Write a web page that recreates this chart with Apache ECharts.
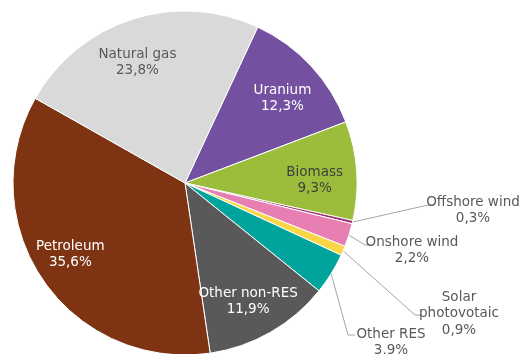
<!DOCTYPE html>
<html>
<head>
<meta charset="utf-8">
<script src="https://cdn.jsdelivr.net/npm/echarts@6/dist/echarts.min.js"></script>
<style>
  html, body { margin: 0; padding: 0; background: #ffffff; }
  #chart { width: 531px; height: 354px; }
</style>
</head>
<body>
<div id="chart"></div>
<script>
// Energy mix shares (%), listed clockwise starting with Uranium
const categories = ['Uranium', 'Biomass', 'Offshore wind', 'Onshore wind', 'Solar photovotaic',
                    'Other RES', 'Other non-RES', 'Petroleum', 'Natural gas'];
const labelNames = ['Uranium', 'Biomass', 'Offshore wind', 'Onshore wind', 'Solar\nphotovotaic',
                    'Other RES', 'Other non-RES', 'Petroleum', 'Natural gas'];
const shares = [12.3, 9.3, 0.3, 2.2, 0.9, 3.9, 11.9, 35.6, 23.8];
const colors = ['#7450a0', '#9cbd3c', '#9b2f6e', '#e77fb3', '#f8d646', '#00a49c', '#595959', '#7e3312', '#d9d9d9'];

// Which slices carry their label inside the slice, and its text colour
const insideLabelColor = ['#ffffff', '#3f3f3f', null, null, null, null, '#ffffff', '#ffffff', '#595959'];
// Small nudges of the in-slice labels away from the slice bisector
const insideNudge = { 0: [0, 6], 1: [-3, 7], 6: [-3, 3], 7: [-5, -4], 8: [-7, 6] };

// Callout placement for the small slices: label centre and leader line bend / end
const callouts = {
  2: { label: [473, 210.5], bend: [428, 205], end: [433, 205] },
  3: { label: [412, 250.5], bend: [365, 245], end: [371, 245] },
  4: { label: [459, 313.5], bend: [415, 315], end: [421, 315] },
  5: { label: [391, 342.5], bend: [348, 335], end: [355, 335] }
};

const CX = 185, CY = 183, R = 172;
const START = 65; // degrees, measured counter-clockwise from 3 o'clock

const fmt = (v) => v.toFixed(1).replace('.', ',') + '%';

// Edge point of a slice at its middle angle
const total = shares.reduce((a, b) => a + b, 0);
function edgePoint(idx) {
  let before = 0;
  for (let i = 0; i < idx; i++) before += shares[i];
  const mid = START - (before + shares[idx] / 2) / total * 360;
  const a = mid * Math.PI / 180;
  return [CX + R * Math.cos(a), CY - R * Math.sin(a)];
}

const font = { fontFamily: 'DejaVu Sans', fontSize: 13.5, lineHeight: 16.5 };

const mainData = categories.map((name, i) => ({
  name: name,
  value: shares[i],
  itemStyle: { color: colors[i] },
  label: callouts[i] ? {
    show: true, position: 'outside', color: '#595959', align: 'center',
    formatter: () => labelNames[i] + '\n' + fmt(shares[i]), ...font
  } : { show: false },
  labelLine: callouts[i] ? { show: true, lineStyle: { color: '#a6a6a6', width: 1 } } : { show: false }
}));

const labelData = categories.map((name, i) => ({
  name: name,
  value: shares[i],
  label: insideLabelColor[i] ? {
    show: true, position: 'inside', color: insideLabelColor[i], align: 'center',
    formatter: () => labelNames[i] + '\n' + fmt(shares[i]), ...font
  } : { show: false }
}));

const chart = echarts.init(document.getElementById('chart'), null, { renderer: 'canvas' });
chart.setOption({
  animation: false,
  backgroundColor: '#ffffff',
  series: [
    {
      type: 'pie',
      silent: true,
      center: [CX, CY],
      radius: R,
      startAngle: START,
      clockwise: true,
      avoidLabelOverlap: false,
      itemStyle: { borderColor: '#ffffff', borderWidth: 1 },
      data: mainData,
      labelLayout: function (params) {
        const c = callouts[params.dataIndex];
        if (!c) return {};
        return {
          x: c.label[0], y: c.label[1], align: 'center', verticalAlign: 'middle',
          labelLinePoints: [edgePoint(params.dataIndex), c.bend, c.end]
        };
      }
    },
    {
      // transparent ring that positions the in-slice labels
      type: 'pie',
      silent: true,
      center: [CX, CY],
      radius: [88, R],
      startAngle: START,
      clockwise: true,
      avoidLabelOverlap: false,
      itemStyle: { color: 'rgba(0,0,0,0)', borderWidth: 0 },
      labelLine: { show: false },
      data: labelData,
      labelLayout: function (params) {
        const n = insideNudge[params.dataIndex];
        return n ? { dx: n[0], dy: n[1] } : {};
      }
    }
  ]
});
</script>
</body>
</html>
